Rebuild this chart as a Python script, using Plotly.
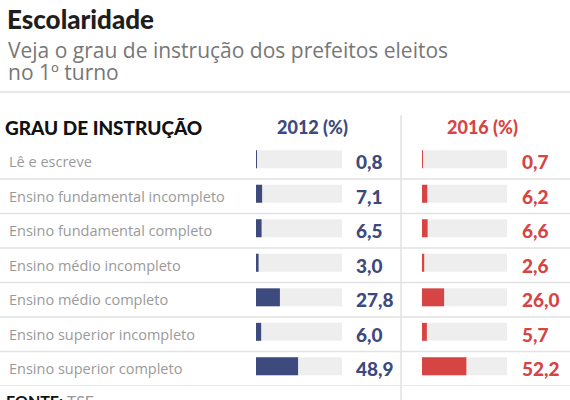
import plotly.graph_objects as go

categories = [
    "Lê e escreve",
    "Ensino fundamental incompleto",
    "Ensino fundamental completo",
    "Ensino médio incompleto",
    "Ensino médio completo",
    "Ensino superior incompleto",
    "Ensino superior completo",
]
values_2012 = [0.8, 7.1, 6.5, 3.0, 27.8, 6.0, 48.9]
values_2016 = [0.7, 6.2, 6.6, 2.6, 26.0, 5.7, 52.2]
full_scale = [100] * len(categories)

W, H = 570, 400
NAVY = "#3d4a7d"
RED = "#d64444"
BG = "#eeeeee"
GRID = "#e2e2e2"


def px(x):
    return x / W


def py(y):
    return 1 - y / H


def fmt(v):
    return f"{v:.1f}".replace(".", ",")


fig = go.Figure()
bar_w = 0.52
bar_off = -0.33
for ax, vals, col in (("x", values_2012, NAVY), ("x2", values_2016, RED)):
    fig.add_trace(go.Bar(y=categories, x=full_scale, orientation="h", xaxis=ax, yaxis="y",
                         marker=dict(color=BG, line=dict(width=0)), width=bar_w, offset=bar_off,
                         hoverinfo="skip"))
    fig.add_trace(go.Bar(y=categories, x=vals, orientation="h", xaxis=ax, yaxis="y",
                         marker=dict(color=col, line=dict(width=0)), width=bar_w, offset=bar_off))

annotations = []
for c, v1, v2 in zip(categories, values_2012, values_2016):
    annotations.append(dict(x=px(7), y=c, xref="paper", yref="y", text=c, showarrow=False,
                            xanchor="left", yanchor="middle",
                            font=dict(family="Open Sans", size=14.5, color="#9a9a9a")))
    annotations.append(dict(x=px(354), y=c, xref="paper", yref="y", text=fmt(v1),
                            showarrow=False, xanchor="left", yanchor="middle",
                            font=dict(family="Lato", size=19, color=NAVY, weight=900)))
    annotations.append(dict(x=px(520), y=c, xref="paper", yref="y", text=fmt(v2),
                            showarrow=False, xanchor="left", yanchor="middle",
                            font=dict(family="Lato", size=19, color=RED, weight=900)))

annotations += [
    dict(x=px(5), y=py(19), xref="paper", yref="paper", text="Escolaridade", showarrow=False,
         xanchor="left", yanchor="middle",
         font=dict(family="Lato", size=26, color="#1e1e1e", weight=900)),
    dict(x=px(6), y=py(50), xref="paper", yref="paper",
         text="Veja o grau de instrução dos prefeitos eleitos", showarrow=False,
         xanchor="left", yanchor="middle", font=dict(family="Open Sans", size=21, color="#777777")),
    dict(x=px(6), y=py(72), xref="paper", yref="paper", text="no 1º turno", showarrow=False,
         xanchor="left", yanchor="middle", font=dict(family="Open Sans", size=21, color="#777777")),
    dict(x=px(3), y=py(127), xref="paper", yref="paper", text="GRAU DE INSTRUÇÃO",
         showarrow=False, xanchor="left", yanchor="middle",
         font=dict(family="Lato", size=19, color="#111111", weight=900)),
    dict(x=px(312), y=py(127), xref="paper", yref="paper", text="2012 (%)",
         showarrow=False, xanchor="center", yanchor="middle",
         font=dict(family="Lato", size=18, color=NAVY, weight=900)),
    dict(x=px(482), y=py(127), xref="paper", yref="paper", text="2016 (%)",
         showarrow=False, xanchor="center", yanchor="middle",
         font=dict(family="Lato", size=18, color=RED, weight=900)),
    dict(x=px(4), y=py(389), xref="paper", yref="paper",
         text="<b>FONTE:</b> <span style='color:#999999'>TSE</span>",
         showarrow=False, xanchor="left", yanchor="top",
         font=dict(family="Lato", size=16, color="#111111")),
]

shapes = [
    dict(type="line", xref="paper", yref="paper", x0=0, x1=1, y0=py(92), y1=py(92),
         line=dict(color=GRID, width=1.5)),
    dict(type="line", xref="paper", yref="paper", x0=px(401), x1=px(401), y0=py(115), y1=0,
         line=dict(color=GRID, width=1.5)),
]
for i in range(len(categories)):
    shapes.append(dict(type="line", xref="paper", yref="y", x0=0, x1=1, y0=i + 0.5, y1=i + 0.5,
                       line=dict(color=GRID, width=1.5)))

fig.update_layout(
    width=W, height=H,
    margin=dict(l=0, r=0, t=0, b=0),
    paper_bgcolor="white", plot_bgcolor="rgba(0,0,0,0)",
    barmode="overlay", showlegend=False,
    xaxis=dict(domain=[px(256), px(342)], range=[0, 100], visible=False, fixedrange=True),
    xaxis2=dict(domain=[px(422), px(507)], range=[0, 100], visible=False, fixedrange=True),
    yaxis=dict(domain=[py(386), py(144.5)], range=[len(categories) - 0.5, -0.5], visible=False,
               type="category", fixedrange=True),
    annotations=annotations,
    shapes=shapes,
)

fig.write_html("out.html", config={"displayModeBar": False},
               post_script="document.body.style.margin='0';document.body.style.overflow='hidden';")
